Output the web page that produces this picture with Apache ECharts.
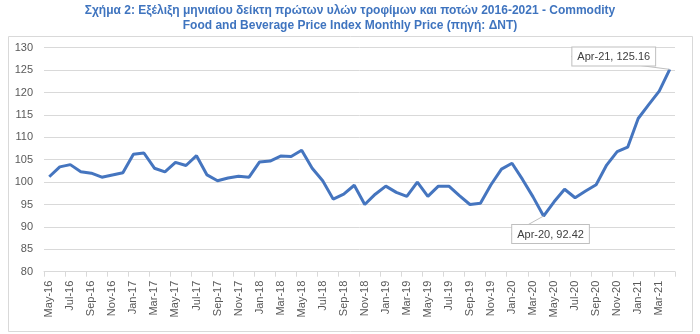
<!DOCTYPE html>
<html>
<head>
<meta charset="utf-8">
<script src="https://cdn.jsdelivr.net/npm/echarts@6/dist/echarts.min.js"></script>
<style>html,body{margin:0;padding:0;background:#fff}#c{width:700px;height:334px}</style>
</head>
<body>
<div id="c"></div>
<script>
const categories = [
 'May-16','Jun-16','Jul-16','Aug-16','Sep-16','Oct-16','Nov-16','Dec-16',
 'Jan-17','Feb-17','Mar-17','Apr-17','May-17','Jun-17','Jul-17','Aug-17','Sep-17','Oct-17','Nov-17','Dec-17',
 'Jan-18','Feb-18','Mar-18','Apr-18','May-18','Jun-18','Jul-18','Aug-18','Sep-18','Oct-18','Nov-18','Dec-18',
 'Jan-19','Feb-19','Mar-19','Apr-19','May-19','Jun-19','Jul-19','Aug-19','Sep-19','Oct-19','Nov-19','Dec-19',
 'Jan-20','Feb-20','Mar-20','Apr-20','May-20','Jun-20','Jul-20','Aug-20','Sep-20','Oct-20','Nov-20','Dec-20',
 'Jan-21','Feb-21','Mar-21','Apr-21'
];
const values = [
 101.2,103.4,103.9,102.3,102.0,101.1,101.6,102.1,
 106.2,106.5,103.1,102.3,104.4,103.7,105.9,101.6,100.3,100.9,101.3,101.1,
 104.5,104.7,105.8,105.7,107.1,103.1,100.3,96.2,97.3,99.3,95.0,97.3,
 99.1,97.7,96.8,100.0,96.8,99.1,99.1,97.0,95.0,95.3,99.4,102.9,
 104.2,100.6,96.7,92.42,95.6,98.4,96.5,98.0,99.4,103.8,106.8,107.8,
 114.2,117.3,120.3,125.16
];
const yTicks = { min: 80, max: 130, interval: 5 };
const titleLines = [
  'Σχήμα 2: Εξέλιξη μηνιαίου δείκτη πρώτων υλών τροφίμων και ποτών 2016-2021 - Commodity',
  'Food and Beverage Price Index Monthly Price (πηγή: ΔΝΤ)'
];
const annotated = { 'Apr-20': 'bottom', 'Apr-21': 'top' };

const seriesData = values.map((v, i) => {
  const name = categories[i];
  if (annotated[name]) {
    return {
      value: v,
      label: {
        show: true,
        position: annotated[name],
        formatter: p => p.name + ', ' + p.value
      }
    };
  }
  return v;
});

const titleStyle = {
  fontFamily: 'Liberation Sans, Arial, sans-serif',
  fontSize: 12,
  fontWeight: 'bold',
  color: '#3F74BF'
};

const chart = echarts.init(document.getElementById('c'), null, { renderer: 'canvas' });
chart.setOption({
  backgroundColor: '#ffffff',
  animation: false,
  title: [
    { text: titleLines[0], left: 'center', top: 5, padding: 0, textStyle: titleStyle },
    { text: titleLines[1], left: 'center', top: 20, padding: 0, textStyle: titleStyle }
  ],
  graphic: [{
    type: 'rect',
    left: 6, top: 34,
    shape: { width: 684, height: 295 },
    style: { fill: 'none', stroke: '#d9d9d9', lineWidth: 1 },
    z: -1
  }],
  grid: { left: 44, right: 25, top: 47.7, bottom: 62.3, containLabel: false },
  xAxis: {
    type: 'category',
    data: categories,
    boundaryGap: true,
    axisLine: { show: true, lineStyle: { color: '#d9d9d9', width: 1 } },
    axisTick: { show: true, interval: 1, length: 5, lineStyle: { color: '#d9d9d9' } },
    axisLabel: {
      interval: 1,
      rotate: 90,
      margin: 9,
      color: '#595959',
      fontSize: 11,
      fontFamily: 'Liberation Sans, Arial, sans-serif'
    },
    splitLine: { show: false }
  },
  yAxis: {
    type: 'value',
    min: yTicks.min,
    max: yTicks.max,
    interval: yTicks.interval,
    axisLine: { show: false },
    axisTick: { show: false },
    axisLabel: {
      margin: 11,
      color: '#595959',
      fontSize: 11,
      fontFamily: 'Liberation Sans, Arial, sans-serif'
    },
    splitLine: { lineStyle: { color: '#d9d9d9', width: 1 } }
  },
  series: [{
    type: 'line',
    data: seriesData,
    showSymbol: true,
    symbol: 'circle',
    symbolSize: 0,
    lineStyle: { color: '#4575BF', width: 3 },
    itemStyle: { color: '#4575BF' },
    label: {
      backgroundColor: '#ffffff',
      borderColor: '#bfbfbf',
      borderWidth: 1,
      padding: [4, 5, 3, 5],
      color: '#404040',
      fontSize: 11,
      fontFamily: 'Liberation Sans, Arial, sans-serif'
    },
    labelLine: { show: true, lineStyle: { color: '#bfbfbf', width: 1 } },
    labelLayout: function (params) {
      if (params.dataIndex === categories.indexOf('Apr-21')) {
        return { dx: -56, dy: 1 };
      }
      if (params.dataIndex === categories.indexOf('Apr-20')) {
        return { dx: 7, dy: 4 };
      }
      return {};
    }
  }]
});
</script>
</body>
</html>
